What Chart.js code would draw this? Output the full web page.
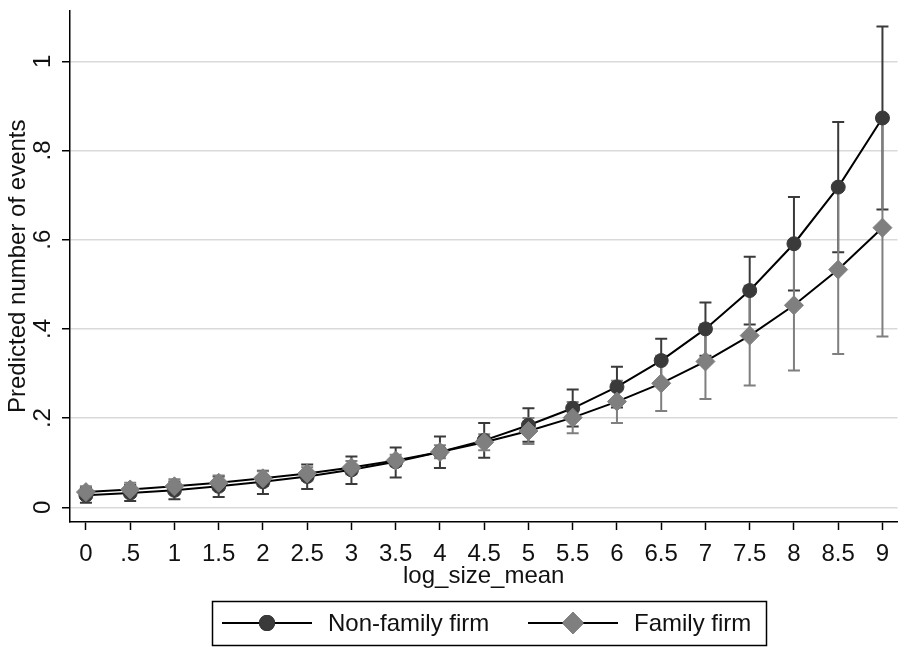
<!DOCTYPE html>
<html>
<head>
<meta charset="utf-8">
<title>Predicted number of events</title>
<script src="https://cdn.jsdelivr.net/npm/chart.js@4.4.1/dist/chart.umd.min.js"></script>
<style>
    html, body { margin: 0; padding: 0; background: #fff; }
    #wrap { width: 908px; height: 647px; position: relative; }
</style>
</head>
<body>
<div id="wrap"><canvas id="mainChart"></canvas></div>
<script>
// Datos
const logSize = [0, 0.5, 1, 1.5, 2, 2.5, 3, 3.5, 4, 4.5, 5, 5.5, 6, 6.5, 7, 7.5, 8, 8.5, 9];
const xTickLabels = ['0', '.5', '1', '1.5', '2', '2.5', '3', '3.5', '4', '4.5', '5', '5.5', '6', '6.5', '7', '7.5', '8', '8.5', '9'];
const yTicks = [0, 0.2, 0.4, 0.6, 0.8, 1];
const yTickLabels = ['0', '.2', '.4', '.6', '.8', '1'];

const nonFamily = [0.027, 0.032, 0.038, 0.047, 0.057, 0.069, 0.084, 0.102, 0.124, 0.150, 0.184, 0.222, 0.270, 0.329, 0.400, 0.486, 0.591, 0.718, 0.873];
const nonFamilyLo = [0.010, 0.014, 0.018, 0.023, 0.030, 0.041, 0.052, 0.067, 0.088, 0.111, 0.147, 0.181, 0.224, 0.280, 0.340, 0.410, 0.486, 0.572, 0.668];
const nonFamilyHi = [0.043, 0.050, 0.058, 0.069, 0.082, 0.096, 0.114, 0.134, 0.159, 0.189, 0.222, 0.264, 0.315, 0.378, 0.459, 0.562, 0.696, 0.864, 1.078];

const family = [0.034, 0.040, 0.047, 0.055, 0.065, 0.076, 0.089, 0.105, 0.124, 0.146, 0.171, 0.201, 0.237, 0.278, 0.327, 0.385, 0.453, 0.533, 0.627];
const familyLo = [0.021, 0.026, 0.031, 0.039, 0.048, 0.060, 0.074, 0.092, 0.110, 0.128, 0.142, 0.166, 0.189, 0.216, 0.243, 0.273, 0.307, 0.344, 0.383];
const familyHi = [0.047, 0.055, 0.063, 0.071, 0.081, 0.090, 0.104, 0.118, 0.139, 0.164, 0.200, 0.236, 0.284, 0.340, 0.411, 0.497, 0.598, 0.722, 0.871];

const FONT = '"Liberation Sans", Arial, Helvetica, sans-serif';
const NF_COLOR = '#3a3a3a';
const F_COLOR = '#7f7f7f';

// Intervalos de confianza (se dibujan debajo de las líneas)
const errorBars = {
    id: 'errorBars',
    beforeDatasetsDraw(chart) {
        const { ctx, scales: { x, y } } = chart;
        const sets = [
            { lo: nonFamilyLo, hi: nonFamilyHi, color: NF_COLOR },
            { lo: familyLo, hi: familyHi, color: F_COLOR }
        ];
        ctx.save();
        ctx.lineWidth = 2;
        sets.forEach(s => {
            ctx.strokeStyle = s.color;
            logSize.forEach((v, i) => {
                const px = x.getPixelForValue(v);
                const yLo = y.getPixelForValue(s.lo[i]);
                const yHi = y.getPixelForValue(s.hi[i]);
                ctx.beginPath();
                ctx.moveTo(px, yLo); ctx.lineTo(px, yHi);
                ctx.moveTo(px - 6, yLo); ctx.lineTo(px + 6, yLo);
                ctx.moveTo(px - 6, yHi); ctx.lineTo(px + 6, yHi);
                ctx.stroke();
            });
        });
        ctx.restore();
    }
};

// Etiquetas del eje Y rotadas y leyenda con marco
const extras = {
    id: 'extras',
    afterDraw(chart) {
        const { ctx, scales: { y } } = chart;
        ctx.save();
        ctx.fillStyle = '#111';
        ctx.font = '24px ' + FONT;
        ctx.textAlign = 'center';
        ctx.textBaseline = 'middle';
        yTicks.forEach((v, i) => {
            ctx.save();
            ctx.translate(43, y.getPixelForValue(v));
            ctx.rotate(-Math.PI / 2);
            ctx.fillText(yTickLabels[i], 0, 0);
            ctx.restore();
        });

        // Leyenda
        ctx.strokeStyle = '#000';
        ctx.lineWidth = 1.5;
        ctx.strokeRect(212.5, 601.5, 554, 44);

        const items = [
            { ds: chart.data.datasets[1], x0: 222, x1: 312, text: 328 },
            { ds: chart.data.datasets[0], x0: 528, x1: 618, text: 634 }
        ];
        const ly = 623;
        items.forEach(it => {
            ctx.strokeStyle = '#000';
            ctx.lineWidth = 2;
            ctx.beginPath();
            ctx.moveTo(it.x0, ly); ctx.lineTo(it.x1, ly);
            ctx.stroke();
            Chart.helpers.drawPoint(ctx, {
                pointStyle: it.ds.pointStyle,
                radius: it.ds.pointRadius,
                borderWidth: 1,
                rotation: 0
            }, (it.x0 + it.x1) / 2, ly);
            ctx.fillStyle = it.ds.pointBackgroundColor;
            ctx.strokeStyle = it.ds.pointBorderColor;
            ctx.fill();
            ctx.stroke();
            ctx.fillStyle = '#111';
            ctx.textAlign = 'left';
            ctx.fillText(it.ds.label, it.text, ly + 1);
        });
        ctx.restore();
    }
};

new Chart(document.getElementById('mainChart'), {
    type: 'line',
    data: {
        datasets: [
            {
                label: 'Family firm',
                data: logSize.map((v, i) => ({ x: v, y: family[i] })),
                borderColor: '#000',
                borderWidth: 2,
                pointStyle: 'rectRot',
                pointRadius: 9.5,
                pointBackgroundColor: F_COLOR,
                pointBorderColor: F_COLOR,
                pointBorderWidth: 1,
                tension: 0,
                order: 1
            },
            {
                label: 'Non-family firm',
                data: logSize.map((v, i) => ({ x: v, y: nonFamily[i] })),
                borderColor: '#000',
                borderWidth: 2,
                pointStyle: 'circle',
                pointRadius: 7,
                pointBackgroundColor: NF_COLOR,
                pointBorderColor: NF_COLOR,
                pointBorderWidth: 1,
                tension: 0,
                order: 2
            }
        ]
    },
    options: {
        responsive: true,
        maintainAspectRatio: false,
        animation: false,
        events: [],
        layout: { padding: { top: 7, right: 2, bottom: 55, left: 0 } },
        plugins: {
            legend: { display: false },
            tooltip: { enabled: false }
        },
        scales: {
            x: {
                type: 'linear',
                min: -0.18,
                max: 9.17,
                afterBuildTicks: s => { s.ticks = logSize.map(v => ({ value: v })); },
                afterFit: s => { s.height = 70; },
                border: { color: '#000', width: 1.5 },
                grid: { drawOnChartArea: false, tickLength: 8, tickColor: '#000', tickWidth: 1.5 },
                ticks: {
                    autoSkip: false,
                    maxRotation: 0,
                    padding: 10,
                    color: '#111',
                    font: { family: FONT, size: 24 },
                    callback: (v, i) => xTickLabels[i]
                },
                title: {
                    display: true,
                    text: 'log_size_mean',
                    color: '#111',
                    font: { family: FONT, size: 24 },
                    padding: { top: 0, bottom: 1 }
                }
            },
            y: {
                type: 'linear',
                min: -0.033,
                max: 1.114,
                afterBuildTicks: s => { s.ticks = yTicks.map(v => ({ value: v })); },
                afterFit: s => { s.width = 70; },
                border: { color: '#000', width: 1.5 },
                grid: { color: '#d9d9d9', lineWidth: 1.5, tickLength: 8, tickColor: '#000', tickWidth: 1.5 },
                // etiquetas reales dibujadas rotadas en el plugin
                ticks: { display: false },
                title: {
                    display: true,
                    text: 'Predicted number of events',
                    color: '#111',
                    font: { family: FONT, size: 24 },
                    padding: { top: 4, bottom: 0 }
                }
            }
        }
    },
    plugins: [errorBars, extras]
});
</script>
</body>
</html>
